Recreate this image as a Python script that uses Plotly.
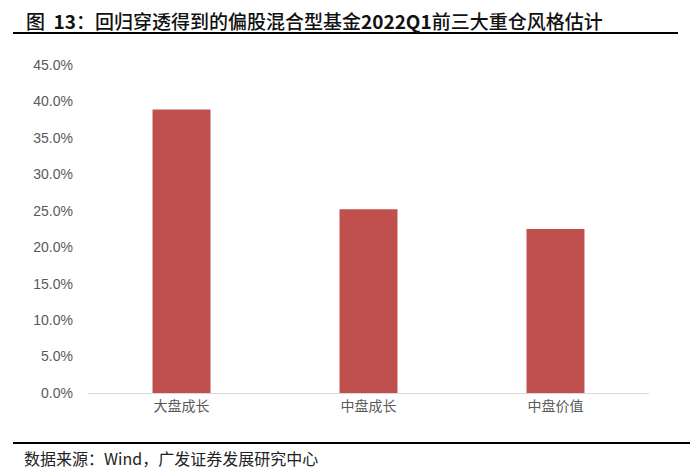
import plotly.graph_objects as go

categories = ["大盘成长", "中盘成长", "中盘价值"]
values = [0.389, 0.252, 0.225]
tick_vals = [i * 0.05 for i in range(10)]
tick_text = ["0.0%", "5.0%", "10.0%", "15.0%", "20.0%", "25.0%", "30.0%", "35.0%", "40.0%", "45.0%"]

title_text = "图  <b>13</b>：回归穿透得到的偏股混合型基金<b>2022Q1</b>前三大重仓风格估计"
source_text = "数据来源：Wind，广发证券发展研究中心"

W, H = 700, 475
ML, MR, MT, MB = 88, 51, 65, 82

fig = go.Figure()
fig.add_trace(go.Bar(x=categories, y=values, marker=dict(color="#C0504D", line=dict(width=0)), width=0.31,
                     hoverinfo="skip"))

plot_h = H - MT - MB
plot_w = W - ML - MR
def py(y):
    return (H - MB - y) / plot_h
def px(x):
    return (x - ML) / plot_w

fig.update_layout(
    width=W, height=H,
    margin=dict(l=ML, r=MR, t=MT, b=MB),
    plot_bgcolor="white", paper_bgcolor="white",
    showlegend=False,
    font=dict(family="Noto Sans CJK SC, Liberation Sans, Arial", color="#595959", size=13),
    xaxis=dict(showline=True, linecolor="#D9D9D9", linewidth=1, ticks="", showgrid=False,
               tickfont=dict(size=14, color="#595959", family="Noto Sans CJK SC")),
    yaxis=dict(range=[0, 0.45], tickvals=tick_vals, ticktext=tick_text, showgrid=False,
               zeroline=False, showline=False, ticks="", ticklen=0, ticklabelstandoff=14,
               tickfont=dict(size=14, color="#595959", family="Liberation Sans, Arial")),
    annotations=[
        dict(text=title_text, x=px(24), y=py(20), xref="paper", yref="paper",
             xanchor="left", yanchor="middle", showarrow=False,
             font=dict(size=19, color="#111111", family="Noto Sans CJK SC", weight=500)),
        dict(text=source_text, x=px(22), y=py(458), xref="paper", yref="paper",
             xanchor="left", yanchor="middle", showarrow=False,
             font=dict(size=16, color="#222222", family="Noto Sans CJK SC")),
    ],
)
fig.add_shape(type="line", xref="paper", yref="paper", x0=px(13), x1=px(678), y0=py(33), y1=py(33),
              line=dict(color="#000000", width=2))
fig.add_shape(type="line", xref="paper", yref="paper", x0=px(13), x1=px(690), y0=py(443), y1=py(443),
              line=dict(color="#000000", width=2))
fig.write_html("out.html", config={"displayModeBar": False},
               post_script="document.body.style.margin='0px';")
